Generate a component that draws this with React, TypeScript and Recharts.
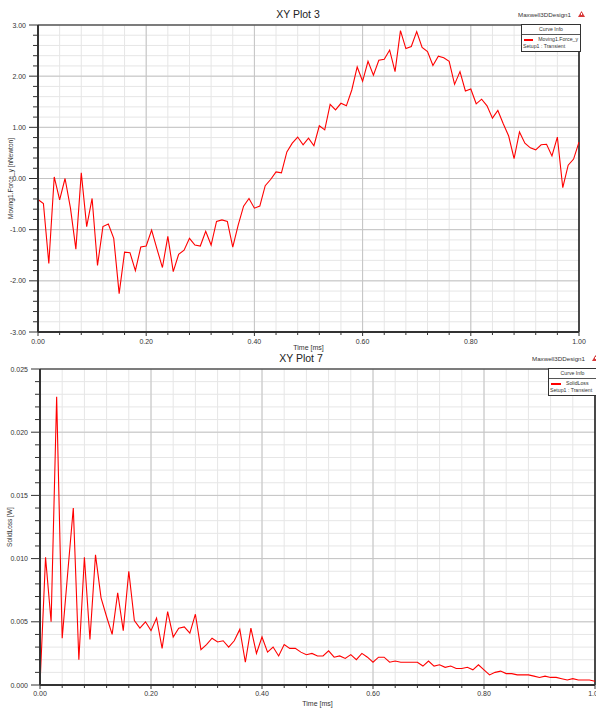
import React from 'react';
import {
  LineChart,
  Line,
  XAxis,
  YAxis,
  CartesianGrid,
  ReferenceLine,
  Label,
} from 'recharts';

// time grid shared by both plots [ms]
const timeMs = [
  0, 0.01, 0.02, 0.03, 0.04, 0.05, 0.06, 0.07, 0.08, 0.09,
  0.1, 0.11, 0.12, 0.13, 0.14, 0.15, 0.16, 0.17, 0.18, 0.19,
  0.2, 0.21, 0.22, 0.23, 0.24, 0.25, 0.26, 0.27, 0.28, 0.29,
  0.3, 0.31, 0.32, 0.33, 0.34, 0.35, 0.36, 0.37, 0.38, 0.39,
  0.4, 0.41, 0.42, 0.43, 0.44, 0.45, 0.46, 0.47, 0.48, 0.49,
  0.5, 0.51, 0.52, 0.53, 0.54, 0.55, 0.56, 0.57, 0.58, 0.59,
  0.6, 0.61, 0.62, 0.63, 0.64, 0.65, 0.66, 0.67, 0.68, 0.69,
  0.7, 0.71, 0.72, 0.73, 0.74, 0.75, 0.76, 0.77, 0.78, 0.79,
  0.8, 0.81, 0.82, 0.83, 0.84, 0.85, 0.86, 0.87, 0.88, 0.89,
  0.9, 0.91, 0.92, 0.93, 0.94, 0.95, 0.96, 0.97, 0.98, 0.99,
  1.0,
];

// XY Plot 3 : Moving1.Force_y [nNewton]
const forceY = [
  -0.41, -0.49, -1.66, 0.03, -0.42, 0.0, -0.58, -1.38, 0.11, -0.94,
  -0.39, -1.7, -0.94, -0.89, -1.17, -2.25, -1.44, -1.45, -1.8, -1.34,
  -1.32, -1.01, -1.38, -1.74, -1.13, -1.82, -1.48, -1.4, -1.17, -1.3,
  -1.32, -1.03, -1.3, -0.84, -0.81, -0.84, -1.34, -0.91, -0.54, -0.39,
  -0.58, -0.54, -0.14, -0.02, 0.13, 0.11, 0.52, 0.69, 0.81, 0.66,
  0.79, 0.64, 1.03, 0.95, 1.45, 1.34, 1.47, 1.42, 1.73, 2.18,
  1.9, 2.29, 2.02, 2.31, 2.33, 2.51, 2.09, 2.89, 2.54, 2.58,
  2.87, 2.56, 2.48, 2.21, 2.39, 2.36, 2.29, 1.84, 2.09, 1.71,
  1.75, 1.46, 1.55, 1.42, 1.18, 1.33, 1.07, 0.83, 0.39, 0.91,
  0.69, 0.6, 0.56, 0.66, 0.67, 0.44, 0.81, -0.18, 0.26, 0.38,
  0.71,
];

// XY Plot 7 : SolidLoss [W]
const solidLoss = [
  0.0, 0.0101, 0.005, 0.0228, 0.0037, 0.0089, 0.014, 0.002, 0.0101, 0.0036,
  0.0103, 0.0069, 0.0054, 0.004, 0.0073, 0.0043, 0.009, 0.0051, 0.0045, 0.005,
  0.0043, 0.0053, 0.0029, 0.0058, 0.0038, 0.0045, 0.0046, 0.0041, 0.0056, 0.0028,
  0.0032, 0.0037, 0.0034, 0.0035, 0.003, 0.0035, 0.0044, 0.0018, 0.0045, 0.0025,
  0.0038, 0.0026, 0.003, 0.0023, 0.0032, 0.0029, 0.0029, 0.0026, 0.0024, 0.0025,
  0.0023, 0.0023, 0.0027, 0.0022, 0.0023, 0.0021, 0.0024, 0.002, 0.0025, 0.0022,
  0.0018, 0.0022, 0.0022, 0.0018, 0.0019, 0.0018, 0.0018, 0.0018, 0.0018, 0.0015,
  0.0019, 0.0015, 0.0016, 0.0014, 0.0015, 0.0013, 0.0013, 0.0014, 0.0012, 0.0016,
  0.0012, 0.0008, 0.001, 0.0011, 0.0009, 0.0009, 0.0008, 0.0008, 0.0008, 0.0007,
  0.0006, 0.0007, 0.0006, 0.0006, 0.0005, 0.0004, 0.0005, 0.0004, 0.0004, 0.0004,
  0.0003,
];

const timeTicks = [0, 0.2, 0.4, 0.6, 0.8, 1.0];
const forceTicks = [-3, -2, -1, 0, 1, 2, 3];
const lossTicks = [0, 0.005, 0.01, 0.015, 0.02, 0.025];

const FONT = '"Liberation Sans", Arial, sans-serif';
const RED = '#ff0000';
const MINOR_GRID = '#e6e6e6';
const MAJOR_GRID = '#c4c4c4';
const TEXT = '#333';

// split every major interval into 5 minor steps
const withMinor = (majors: number[]) => {
  const out: number[] = [];
  for (let i = 0; i < majors.length - 1; i++) {
    const step = (majors[i + 1] - majors[i]) / 5;
    for (let k = 0; k < 5; k++) out.push(+(majors[i] + k * step).toFixed(6));
  }
  out.push(majors[majors.length - 1]);
  return out;
};

const isIn = (v: number, list: number[]) => list.some((m) => Math.abs(m - v) < 1e-9);

const forceData = timeMs.map((t, i) => ({ t, v: forceY[i] }));
const lossData = timeMs.map((t, i) => ({ t, v: solidLoss[i] }));

const makeXTick = (labelDy: number) => (props: any) => {
  const { x, y, payload } = props;
  const major = isIn(payload.value, timeTicks);
  return (
    <g>
      <line x1={x} x2={x} y1={y} y2={y + (major ? 4 : 3)} stroke="#333" strokeWidth={1} />
      {major && (
        <text x={x} y={y + labelDy} textAnchor="middle" dominantBaseline="central" fontSize={7} fill={TEXT}>
          {payload.value.toFixed(2)}
        </text>
      )}
    </g>
  );
};

const makeYTick = (majors: number[], digits: number) => (props: any) => {
  const { x, y, payload } = props;
  const major = isIn(payload.value, majors);
  return (
    <g>
      <line x1={x} x2={x - (major ? 9 : 5)} y1={y} y2={y} stroke="#333" strokeWidth={1} />
      {major && (
        <text x={x - 12} y={y} textAnchor="end" dominantBaseline="central" fontSize={7} fill={TEXT}>
          {payload.value.toFixed(digits)}
        </text>
      )}
    </g>
  );
};

const CurveInfo = ({ left, top, width, name }: { left: number; top: number; width: number; name: string }) => (
  <div
    style={{
      position: 'absolute',
      left,
      top,
      width,
      background: '#fff',
      border: '1px solid #333',
      fontSize: 5.2,
      color: TEXT,
      lineHeight: '7px',
      whiteSpace: 'nowrap',
      overflow: 'hidden',
    }}
  >
    <div style={{ textAlign: 'center', borderBottom: '1px solid #555', padding: '1px 0' }}>Curve Info</div>
    <div style={{ display: 'flex', alignItems: 'center', padding: '1px 2px 0 2px' }}>
      <span style={{ display: 'inline-block', width: 10, height: 2, background: RED, marginRight: 5 }} />
      <span>{name}</span>
    </div>
    <div style={{ padding: '0 1px 1px 1px' }}>Setup1 : Transient</div>
  </div>
);

const Warn = ({ left, top }: { left: number; top: number }) => (
  <svg style={{ position: 'absolute', left, top }} width={7} height={6}>
    <polygon points="3.5,0 7,6 0,6" fill="#d83a3a" />
    <rect x={3} y={2} width={1} height={2} fill="#fff" />
  </svg>
);

export default function App() {
  const forceAll = withMinor(forceTicks);
  const lossAll = withMinor(lossTicks);
  const timeAll = withMinor(timeTicks);

  return (
    <div
      style={{
        position: 'absolute',
        left: 0,
        top: 0,
        width: 596,
        height: 709,
        background: '#fff',
        fontFamily: FONT,
        overflow: 'hidden',
      }}
    >
      {/* XY Plot 3 */}
      <div style={{ position: 'absolute', left: 0, top: 0 }}>
        <LineChart width={596} height={352} data={forceData} margin={{ top: 25, right: 17, bottom: 0, left: 0 }}>
          <CartesianGrid stroke={MINOR_GRID} strokeWidth={1} />
          {timeTicks.slice(1, -1).map((v) => (
            <ReferenceLine key={'fx' + v} x={v} stroke={MAJOR_GRID} strokeWidth={1} />
          ))}
          {forceTicks.slice(1, -1).map((v) => (
            <ReferenceLine key={'fy' + v} y={v} stroke={MAJOR_GRID} strokeWidth={1} />
          ))}
          <ReferenceLine y={3} stroke="#555" strokeWidth={1.5} />
          <ReferenceLine x={1} stroke="#111" strokeWidth={1.5} />
          <XAxis
            dataKey="t"
            type="number"
            domain={[0, 1]}
            ticks={timeAll}
            interval={0}
            height={20}
            tickSize={0}
            tickMargin={0}
            tick={makeXTick(9)}
            axisLine={{ stroke: '#333', strokeWidth: 2 }}
            tickLine={false}
          >
            <Label value="Time [ms]" position="insideBottom" offset={2} style={{ fontSize: 7, fill: TEXT }} />
          </XAxis>
          <YAxis
            type="number"
            domain={[-3, 3]}
            ticks={forceAll}
            interval={0}
            width={38}
            tickSize={0}
            tickMargin={0}
            tick={makeYTick(forceTicks, 2)}
            axisLine={{ stroke: '#333', strokeWidth: 2 }}
            tickLine={false}
          >
            <Label
              value="Moving1.Force_y [nNewton]"
              angle={-90}
              position="insideLeft"
              offset={11}
              style={{ fontSize: 6.5, fill: TEXT, textAnchor: 'middle' }}
            />
          </YAxis>
          <Line
            type="linear"
            dataKey="v"
            stroke={RED}
            strokeWidth={1.1}
            dot={false}
            isAnimationActive={false}
          />
        </LineChart>
      </div>
      <div style={{ position: 'absolute', left: 0, width: 596, top: 8, textAlign: 'center', fontSize: 10.5, color: '#222' }}>
        XY Plot 3
      </div>
      <div style={{ position: 'absolute', left: 518, top: 11, fontSize: 6.2, color: TEXT, whiteSpace: 'nowrap' }}>
        Maxwell3DDesign1
      </div>
      <Warn left={578} top={11} />
      <CurveInfo left={521} top={24} width={58} name="Moving1.Force_y" />

      {/* XY Plot 7 */}
      <div style={{ position: 'absolute', left: 0, top: 345 }}>
        <LineChart width={596} height={364} data={lossData} margin={{ top: 24, right: 1, bottom: 0, left: 0 }}>
          <CartesianGrid stroke={MINOR_GRID} strokeWidth={1} />
          {timeTicks.slice(1, -1).map((v) => (
            <ReferenceLine key={'lx' + v} x={v} stroke={MAJOR_GRID} strokeWidth={1} />
          ))}
          {lossTicks.slice(1, -1).map((v) => (
            <ReferenceLine key={'ly' + v} y={v} stroke={MAJOR_GRID} strokeWidth={1} />
          ))}
          <ReferenceLine y={0.025} stroke="#555" strokeWidth={1.5} />
          <ReferenceLine x={1} stroke="#111" strokeWidth={1.5} />
          <XAxis
            dataKey="t"
            type="number"
            domain={[0, 1]}
            ticks={timeAll}
            interval={0}
            height={24}
            tickSize={0}
            tickMargin={0}
            tick={makeXTick(8)}
            axisLine={{ stroke: '#333', strokeWidth: 2 }}
            tickLine={false}
          >
            <Label value="Time [ms]" position="insideBottom" offset={3} style={{ fontSize: 7, fill: TEXT }} />
          </XAxis>
          <YAxis
            type="number"
            domain={[0, 0.025]}
            ticks={lossAll}
            interval={0}
            width={40}
            tickSize={0}
            tickMargin={0}
            tick={makeYTick(lossTicks, 3)}
            axisLine={{ stroke: '#333', strokeWidth: 2 }}
            tickLine={false}
          >
            <Label
              value="SolidLoss [W]"
              angle={-90}
              position="insideLeft"
              offset={10}
              style={{ fontSize: 6.5, fill: TEXT, textAnchor: 'middle' }}
            />
          </YAxis>
          <Line
            type="linear"
            dataKey="v"
            stroke={RED}
            strokeWidth={1.1}
            dot={false}
            isAnimationActive={false}
          />
        </LineChart>
      </div>
      <div style={{ position: 'absolute', left: 0, width: 602, top: 352, textAlign: 'center', fontSize: 10.5, color: '#222' }}>
        XY Plot 7
      </div>
      <div style={{ position: 'absolute', left: 532, top: 355, fontSize: 6.2, color: TEXT, whiteSpace: 'nowrap' }}>
        Maxwell3DDesign1
      </div>
      <Warn left={592} top={355} />
      <CurveInfo left={548} top={368} width={47} name="SolidLoss" />
    </div>
  );
}
